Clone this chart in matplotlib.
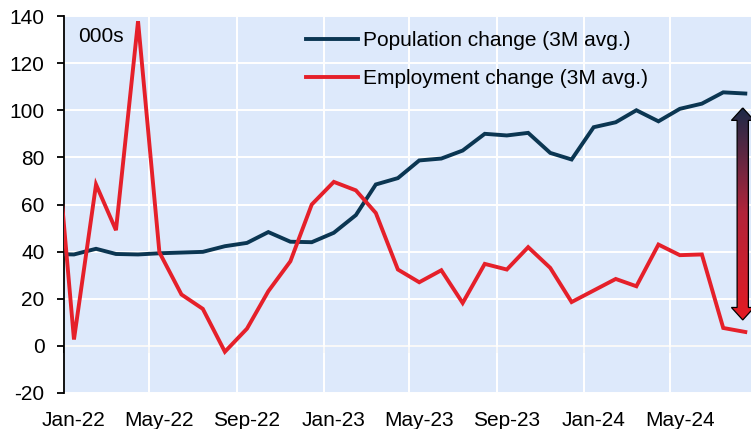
import numpy as np
import pandas as pd
import matplotlib
matplotlib.use("Agg")
import matplotlib.pyplot as plt
import matplotlib.dates as mdates
import matplotlib.transforms as mtransforms
from matplotlib.patches import Polygon
from matplotlib.colors import LinearSegmentedColormap

plt.rcParams['font.family'] = ['Liberation Sans', 'DejaVu Sans']
plt.rcParams['axes.unicode_minus'] = False

# monthly data, Dec-21 to Aug-24 (000s)
months = pd.date_range('2021-12-01', '2024-08-01', freq='MS') + pd.Timedelta(days=14)
population = [39.0, 38.8, 41.2, 39.0, 38.8, 39.3, 39.6, 39.9, 42.3, 43.7, 48.3, 44.2,
              44.0, 48.0, 55.5, 68.5, 71.2, 78.7, 79.5, 82.9, 90.0, 89.3, 90.4, 81.9,
              79.1, 92.8, 94.9, 100.0, 95.3, 100.6, 102.8, 107.6, 107.1]
employment = [110.0, 2.7, 68.5, 49.1, 137.8, 39.7, 21.8, 15.7, -2.5, 7.3, 23.2, 35.9,
              60.0, 69.6, 66.0, 56.4, 32.4, 27.0, 32.1, 18.2, 34.8, 32.4, 41.9, 33.1,
              18.6, 23.5, 28.4, 25.3, 43.0, 38.5, 38.8, 7.6, 5.9]
tick_dates = pd.date_range('2022-01-01', '2024-05-01', freq='4MS')
y_ticks = list(range(-20, 141, 20))
arrow_top, arrow_bottom = 101, 11

navy = '#0b3652'
red = '#e5202a'
bg = '#dde9fb'

fig = plt.figure(figsize=(7.51, 4.29), dpi=100)
ax = fig.add_axes([64 / 751, 36 / 429, 687 / 751, 377 / 429])
ax.set_facecolor(bg)

ax.plot(months, population, color=navy, lw=2.8, label='Population change (3M avg.)',
        solid_joinstyle='miter', zorder=3)
ax.plot(months, employment, color=red, lw=2.8, label='Employment change (3M avg.)',
        solid_joinstyle='miter', zorder=3)

ax.set_ylim(-20, 140)
ax.set_yticks(y_ticks)
# gridlines on the 1st of the month, labels centred mid-month
ax.set_xticks(tick_dates, labels=[])
label_dates = tick_dates + pd.Timedelta(days=14)
ax.set_xticks(label_dates, labels=[d.strftime('%b-%y') for d in tick_dates], minor=True)

ax.grid(True, which='major', color='white', lw=1.4)
ax.set_axisbelow(True)
for s in ['top', 'right', 'bottom']:
    ax.spines[s].set_visible(False)
ax.spines['left'].set_color('black')
ax.spines['left'].set_linewidth(1.3)
ax.tick_params(axis='y', direction='out', length=5, width=1.3, pad=9, labelsize=15)
ax.tick_params(axis='x', which='both', length=0, pad=13, labelsize=15)

# zero line with tick marks
sec = ax.secondary_xaxis(0.125)
sec.set_xticks(tick_dates)
sec.spines['bottom'].set_color('black')
sec.spines['bottom'].set_linewidth(1.3)
sec.tick_params(axis='x', direction='out', length=5, width=1.3, labelbottom=False)

ax.text(0.02, 0.97, '000s', transform=ax.transAxes, fontsize=15, va='top', ha='left')

leg = ax.legend(loc='center left', bbox_to_anchor=(0.352, 0.884), frameon=False,
                fontsize=15, handlelength=2.5, handletextpad=0.25, labelspacing=0.9,
                borderpad=0, borderaxespad=0)

# gradient double arrow
trans = mtransforms.blended_transform_factory(ax.transAxes, ax.transData)
xc = 0.988
sw = 0.0082
hw = 0.0165
hl = 5.3
pts = [(xc, arrow_top), (xc + hw, arrow_top - hl), (xc + sw, arrow_top - hl),
       (xc + sw, arrow_bottom + hl), (xc + hw, arrow_bottom + hl), (xc, arrow_bottom),
       (xc - hw, arrow_bottom + hl), (xc - sw, arrow_bottom + hl), (xc - sw, arrow_top - hl),
       (xc - hw, arrow_top - hl)]
poly = Polygon(pts, closed=True, transform=trans, facecolor='none', edgecolor='black',
               lw=0.9, zorder=6, clip_on=False)
ax.add_patch(poly)
cmap = LinearSegmentedColormap.from_list('arr', ['#e31b23', '#b3243a', '#1a2a48'])
grad = np.linspace(0, 1, 256).reshape(-1, 1)
im = ax.imshow(grad, extent=[xc - hw, xc + hw, arrow_bottom, arrow_top], origin='lower',
               transform=trans, cmap=cmap, aspect='auto', zorder=5)
im.set_clip_path(poly)

ax.set_xlim(pd.Timestamp('2022-01-01'), pd.Timestamp('2024-08-23'))
ax.set_ylim(-20, 140)

fig.savefig('out.png', dpi=100)
